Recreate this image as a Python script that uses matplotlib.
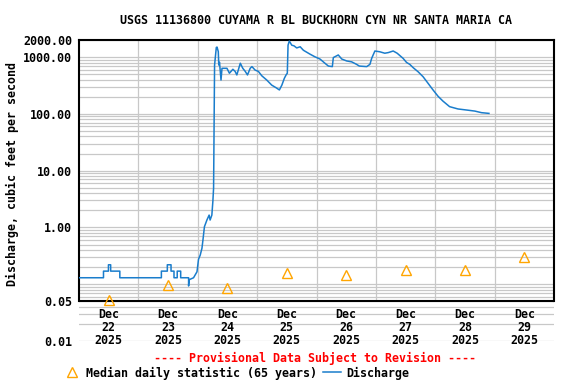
import numpy as np
import pandas as pd
import matplotlib
matplotlib.use("Agg")
import matplotlib.pyplot as plt
from matplotlib.ticker import FixedLocator, NullFormatter

plt.rcParams['font.family'] = ['DejaVu Sans Mono']
plt.rcParams['font.weight'] = 'bold'
fs = 8.4

title = "USGS 11136800 CUYAMA R BL BUCKHORN CYN NR SANTA MARIA CA"
start = pd.Timestamp("2025-12-22 00:00")
end = pd.Timestamp("2025-12-30 00:00")

# discharge, hours after Dec 22 00:00
hours = [0, 9.9, 9.9, 11.9, 11.9, 12.8, 12.8, 16.5, 16.5,
         33.3, 33.3, 35.7, 35.7, 37.2, 37.2, 38.4, 38.4, 39.7, 39.7, 41.1, 41.1,
         44.3, 44.3, 44.5, 46.3, 47.7, 48.3, 49.0, 49.7, 50.1, 50.7, 51.7, 52.6,
         53.0, 53.7, 54.1, 54.4, 54.8, 55.5, 55.8, 56.3, 56.5, 56.8, 57.4, 57.8,
         59.8, 60.8, 62.2, 63.1, 63.8, 65.2, 66.2, 67.2, 68.1, 69.2, 69.9, 71.2,
         72.5, 73.9, 75.9, 77.9, 79.7, 81.0, 82.0, 83.0, 83.7, 84.2, 84.5, 85.0,
         86.0, 86.9, 88.0, 89.4, 90.7, 93.4, 95.4, 97.4, 99.4, 100.8, 102.4,
         102.8, 104.8, 106.2, 108.2, 110.2, 112.2, 113.3, 116.3, 117.6, 118.3,
         119.6, 121.6, 123.6, 125.0, 127.0, 128.6, 131.0, 132.4, 133.7, 135.1,
         137.1, 139.1, 141.1, 143.1, 145.1, 147.1, 149.8, 153.2, 156.6, 160.0,
         162.7, 165.7]
discharge = [0.13, 0.13, 0.17, 0.17, 0.22, 0.22, 0.17, 0.17, 0.13,
             0.13, 0.17, 0.17, 0.22, 0.22, 0.17, 0.17, 0.13, 0.13, 0.17, 0.17, 0.13,
             0.13, 0.093, 0.12, 0.13, 0.166, 0.274, 0.326, 0.43, 0.60, 1.03, 1.35, 1.65,
             1.35, 1.65, 2.84, 4.9, 724, 1480, 1500, 1250, 724, 810, 394, 635,
             635, 520, 610, 560, 485, 780, 635, 560, 485, 635, 680, 590,
             560, 468, 394, 321, 288, 264, 321, 423, 485, 520, 1620, 1920,
             1620, 1580, 1450, 1520, 1320, 1125, 1010, 925, 780, 695, 680,
             980, 1090, 925, 855, 825, 745, 695, 680, 745, 950,
             1280, 1240, 1170, 1200, 1280, 1170, 950, 805, 745, 650,
             550, 450, 345, 264, 205, 168, 134, 122, 117, 112,
             105, 102]

# median daily statistic (65 years), Dec 22 .. Dec 29
median_days = ["22", "23", "24", "25", "26", "27", "28", "29"]
median_vals = [0.053, 0.095, 0.086, 0.159, 0.147, 0.18, 0.18, 0.30]

ytick_vals = [0.01, 0.05, 1, 10, 100, 1000, 2000]

times = start + pd.to_timedelta(hours, unit="h")
noons = [pd.Timestamp("2025-12-%s 12:00" % d) for d in median_days]
midnights = pd.date_range("2025-12-23", "2025-12-29", freq="D")

fig = plt.figure(figsize=(5.76, 3.84), dpi=100)
ax = fig.add_axes([79 / 576, 1 - 341 / 384, 475 / 576, 301 / 384])
ax.set_yscale("log")
ax.set_ylim(0.01, 2000)
ax.set_xlim(start, end)

grid_c = "#c8c8c8"
minor = [m * 10.0 ** e for e in range(-2, 3) for m in range(1, 10)] + [1000, 2000]
ax.yaxis.set_major_locator(FixedLocator(ytick_vals))
ax.yaxis.set_minor_locator(FixedLocator(minor))
ax.yaxis.set_minor_formatter(NullFormatter())
ax.set_yticklabels(["%.2f" % v for v in ytick_vals])
ax.tick_params(axis="y", which="both", length=0, pad=5, labelsize=fs)
ax.grid(True, axis="y", which="both", color=grid_c, lw=0.9, zorder=0)
ax.vlines(midnights, 0.05, 2000, color=grid_c, lw=0.9, zorder=0)
ax.set_xticks([])

for s in ["left", "right"]:
    ax.spines[s].set_bounds(0.05, 2000)
    ax.spines[s].set_linewidth(1.5)
ax.spines["top"].set_linewidth(1.5)
ax.spines["bottom"].set_visible(False)
ax.axhline(0.05, color="black", lw=1.5, zorder=3)

ax.plot(times, discharge, color="#1a7dcc", lw=1.1, zorder=4, label="Discharge")
ax.plot(noons, median_vals, ls="none", marker="^", ms=6.5, mfc="none", mec="#ffa500",
        mew=1.0, zorder=5, label="Median daily statistic (65 years)")

for t, d in zip(noons, median_days):
    ax.text(t, 0.0295, "Dec", ha="center", va="center", fontsize=fs)
    ax.text(t, 0.0176, d, ha="center", va="center", fontsize=fs)
    ax.text(t, 0.0103, "2025", ha="center", va="center", fontsize=fs)

fig.text(315.5 / 576, 1 - 20 / 384, title, ha="center", va="center", fontsize=fs)
fig.text(12 / 576, 1 - 174 / 384, "Discharge, cubic feet per second", rotation=90,
         ha="center", va="center", fontsize=fs)
fig.text(315.5 / 576, 1 - 358 / 384, "---- Provisional Data Subject to Revision ----",
         ha="center", va="center", fontsize=fs, color="red")

h, l = ax.get_legend_handles_labels()
fig.legend(h[::-1], l[::-1], loc="center", bbox_to_anchor=(236 / 576, 1 - 373 / 384),
           ncol=2, frameon=False, fontsize=fs, handlelength=1.55, handletextpad=0.45,
           columnspacing=0.5, borderpad=0, borderaxespad=0)

fig.savefig("out.png", dpi=100)
